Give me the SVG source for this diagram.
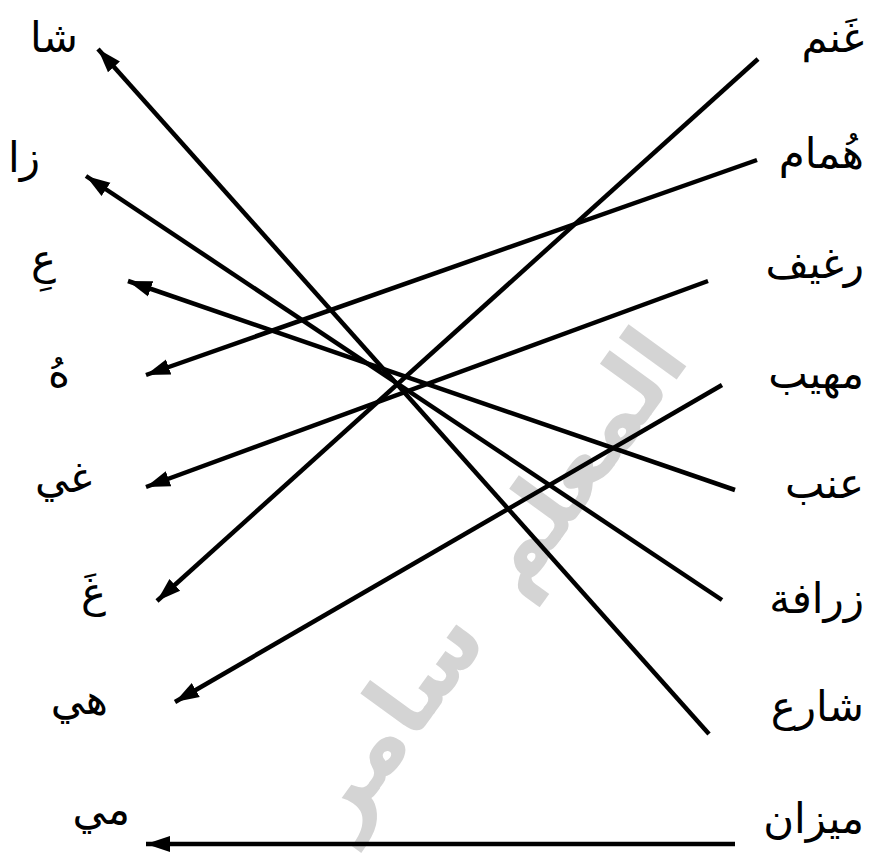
<svg xmlns="http://www.w3.org/2000/svg" width="881" height="861" viewBox="0 0 881 861">
<style>
.lbl{font-family:"DejaVu Sans","Noto Sans",sans-serif;font-size:42px;fill:#000}
.r{text-anchor:end}
.c line{stroke:#000;stroke-width:4.5;marker-end:url(#ah)}
.wm{font-family:"DejaVu Sans",sans-serif;font-size:94px;font-weight:bold;fill:#d4d4d4;text-anchor:middle;word-spacing:16px}
</style>
<defs>
<marker id="ah" markerUnits="userSpaceOnUse" markerWidth="26" markerHeight="20" refX="24" refY="10" orient="auto">
<path d="M0,2 L24,10 L0,18 Z" fill="#000"/>
</marker>
</defs>
<rect width="881" height="861" fill="#fff"/>
<text class="wm" transform="translate(518,598) rotate(-54)" direction="rtl">المعلم سامر</text>
<g class="c" id="connectors">
<line x1="758" y1="59" x2="157" y2="601"/>
<line x1="757" y1="160" x2="146" y2="375"/>
<line x1="708" y1="281" x2="146" y2="487"/>
<line x1="722" y1="385" x2="175" y2="702"/>
<line x1="735" y1="490" x2="128" y2="281"/>
<line x1="722" y1="600" x2="86" y2="176"/>
<line x1="709" y1="734" x2="98" y2="49"/>
<line x1="735" y1="844" x2="146" y2="844"/>
</g>
<g id="r1"><text class="lbl r" x="864" y="52">غَنم</text></g>
<g id="r2"><text class="lbl r" x="864" y="168">هُمام</text></g>
<g id="r3"><text class="lbl r" x="864" y="278">رغيف</text></g>
<g id="r4"><text class="lbl r" x="864" y="388">مهيب</text></g>
<g id="r5"><text class="lbl r" x="864" y="498">عنب</text></g>
<g id="r6"><text class="lbl r" x="864" y="613">زرافة</text></g>
<g id="r7"><text class="lbl r" x="864" y="721">شارع</text></g>
<g id="r8"><text class="lbl r" x="864" y="833">ميزان</text></g>
<g id="l1"><text class="lbl r" x="78" y="52">شا</text></g>
<g id="l2"><text class="lbl r" x="40" y="172">زا</text></g>
<g id="l3"><text class="lbl r" x="56" y="274">عِ</text></g>
<g id="l4"><text class="lbl r" x="70" y="387">هُ</text></g>
<g id="l5"><text class="lbl r" x="92" y="492">غي</text></g>
<g id="l6"><text class="lbl r" x="106" y="607">غَ</text></g>
<g id="l7"><text class="lbl r" x="108" y="714">هي</text></g>
<g id="l8"><text class="lbl r" x="130" y="824">مي</text></g>
</svg>
